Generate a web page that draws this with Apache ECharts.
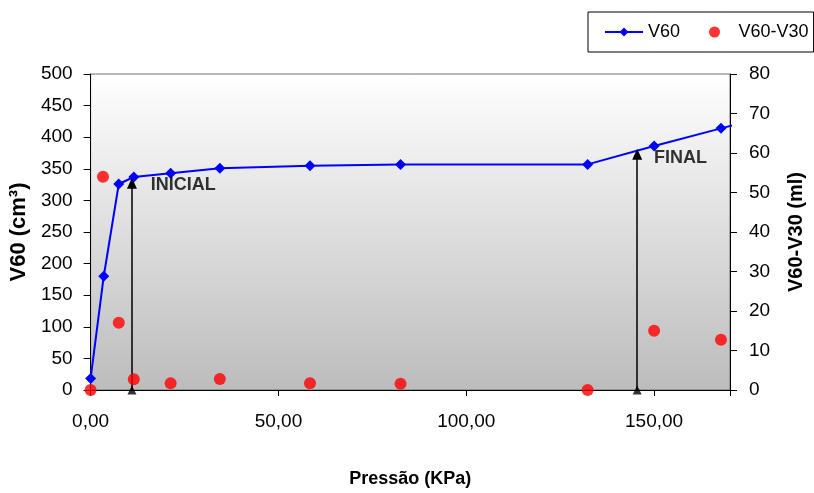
<!DOCTYPE html>
<html><head><meta charset="utf-8">
<script src="https://cdn.jsdelivr.net/npm/echarts@6/dist/echarts.min.js"></script>
<style>html,body{margin:0;padding:0;background:#fff}#c{width:814px;height:493px}</style>
</head><body><div id="c"></div>
<script>
// Data
const pressure = [0, 3.5, 7.5, 11.5, 21.3, 34.4, 58.4, 82.5, 132.3, 150.0, 167.8, 180];
const v60      = [18, 180, 326, 337, 343, 351, 355, 357, 357, 386, 414, 433];
const pressureDiff = [0, 3.3, 7.5, 11.5, 21.3, 34.4, 58.4, 82.5, 132.3, 150.0, 167.8];
const v60v30   = [0, 54, 17, 2.7, 1.7, 2.8, 1.7, 1.6, 0, 15, 12.7];
const arrowX   = [11, 145.5];
const arrowTop = [327, 373];
const notes    = ['INICIAL', 'FINAL'];
const noteX    = [16, 150];
const noteY    = [324, 367];
const xTicks   = [0, 50, 100, 150];

const font = 'Liberation Sans, Arial, sans-serif';
const chart = echarts.init(document.getElementById('c'));
const fmt = v => xTicks.indexOf(v) >= 0 ? v.toFixed(2).replace('.', ',') : '';

chart.setOption({
  animation: false,
  textStyle: {fontFamily: font},
  legend: {
    data: ['V60', 'V60-V30'],
    left: 588, top: 12,
    backgroundColor: '#fff', borderColor: '#000', borderWidth: 1,
    padding: [11, 5, 11, 16],
    itemWidth: 38, itemHeight: 11, itemGap: 29,
    textStyle: {fontSize: 18, color: '#000', fontFamily: font}
  },
  grid: {
    left: 90, right: 83, top: 74, bottom: 103,
    show: true, borderColor: '#707070', borderWidth: 1,
    backgroundColor: new echarts.graphic.LinearGradient(0, 0, 0, 1, [
      {offset: 0, color: '#ffffff'}, {offset: 1, color: '#bcbcbc'}])
  },
  xAxis: {
    type: 'value', min: 0, max: 170.2, interval: 50,
    name: 'Pressão (KPa)', nameLocation: 'middle', nameGap: 80,
    nameTextStyle: {fontSize: 18, fontWeight: 'bold', color: '#000', fontFamily: font},
    axisLine: {lineStyle: {color: '#000'}},
    axisTick: {show: true, length: 6, lineStyle: {color: '#000'}},
    axisLabel: {fontSize: 19, color: '#000', margin: 22, formatter: fmt, fontFamily: font},
    splitLine: {show: false}
  },
  yAxis: [{
    type: 'value', min: 0, max: 500, interval: 50,
    name: 'V60 (cm³)', nameLocation: 'middle', nameGap: 58, nameRotate: 90,
    nameTextStyle: {fontSize: 22, fontWeight: 'bold', color: '#000', fontFamily: font},
    axisLine: {show: true, lineStyle: {color: '#000'}},
    axisTick: {show: true, length: 7, lineStyle: {color: '#000'}},
    axisLabel: {fontSize: 19, color: '#000', margin: 18, fontFamily: font},
    splitLine: {show: false}
  }, {
    type: 'value', min: 0, max: 80, interval: 10, position: 'right',
    name: 'V60-V30 (ml)', nameLocation: 'middle', nameGap: 56, nameRotate: 90,
    nameTextStyle: {fontSize: 20, fontWeight: 'bold', color: '#000', fontFamily: font},
    axisLine: {show: true, lineStyle: {color: '#000'}},
    axisTick: {show: true, length: 7, lineStyle: {color: '#000'}},
    axisLabel: {fontSize: 19, color: '#000', margin: 19, fontFamily: font},
    splitLine: {show: false}
  }],
  series: [{
    name: 'V60', type: 'line',
    data: pressure.map((p, i) => [p, v60[i]]),
    symbol: 'diamond', symbolSize: 11, showSymbol: true,
    itemStyle: {color: '#0000ff'},
    lineStyle: {color: '#0000ff', width: 2},
    z: 4,
    markLine: {
      silent: true, symbol: ['none', 'triangle'], symbolSize: [10, 11],
      label: {show: false},
      lineStyle: {color: '#000', width: 1.5, type: 'solid'},
      data: arrowX.map((x, i) => [{coord: [x, 0]}, {coord: [x, arrowTop[i]]}])
    }
  }, {
    name: 'V60-V30', type: 'scatter', yAxisIndex: 1,
    data: pressureDiff.map((p, i) => [p, v60v30[i]]),
    symbol: 'circle', symbolSize: 12, clip: false,
    itemStyle: {color: '#ff0000'}, z: 5
  }, {
    name: 'arrowBase', type: 'scatter',
    data: arrowX.map(x => [x, 0]),
    symbol: 'triangle', symbolSize: [9, 9], clip: false,
    itemStyle: {color: '#000'}, z: 6
  }, {
    name: 'notes', type: 'scatter',
    data: notes.map((n, i) => ({name: n, value: [noteX[i], noteY[i]]})),
    symbolSize: 0,
    label: {show: true, position: 'right', distance: 0, formatter: p => p.name,
      fontSize: 18, fontWeight: 'bold', color: '#000', fontFamily: font},
    z: 6
  }]
});
</script></body></html>
